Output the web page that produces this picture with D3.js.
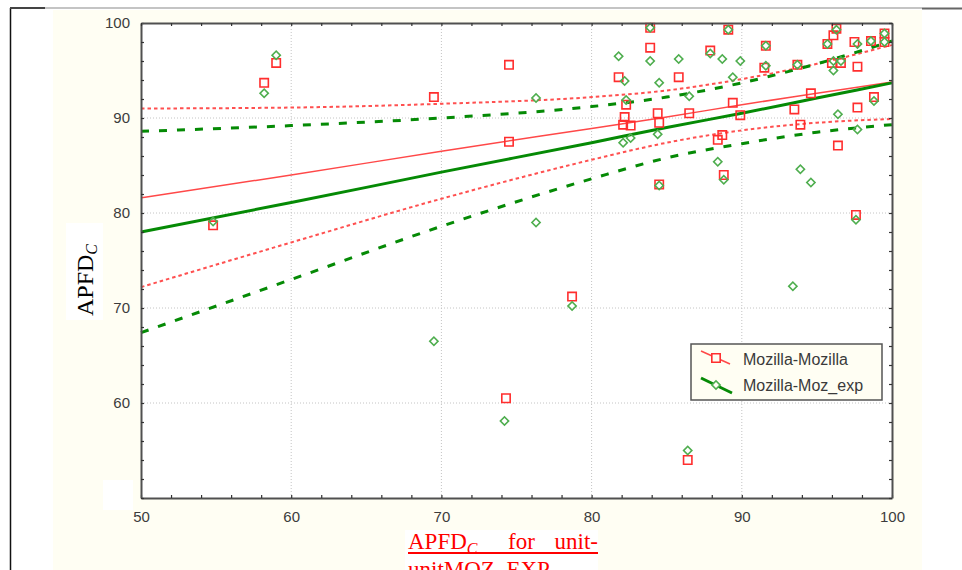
<!DOCTYPE html>
<html>
<head>
<meta charset="utf-8">
<script src="https://cdn.jsdelivr.net/npm/d3@7"></script>
<style>
  body { margin: 0; background: #fff; }
  svg { display: block; }
  .tick text { font-family: "Liberation Sans", Arial, sans-serif; font-size: 15px; fill: #3c3c3c; }
</style>
</head>
<body>
<svg width="962" height="570"></svg>
<script>
// Mozilla-Mozilla (red squares)
const mozillaPoints = [
  [54.8, 78.7], [58.2, 93.7], [59.0, 95.8], [69.5, 92.2], [74.5, 95.6], [74.5, 87.5],
  [74.3, 60.5], [78.7, 71.2], [81.8, 94.3], [82.3, 91.4], [82.2, 90.1], [82.1, 89.3],
  [82.6, 89.2], [83.9, 99.5], [83.9, 97.4], [84.4, 90.5], [84.5, 89.5], [84.5, 83.0],
  [85.8, 94.3], [86.5, 90.5], [86.4, 54.0], [87.9, 97.1], [88.4, 87.7], [88.7, 88.2],
  [88.8, 84.0], [89.1, 99.3], [89.4, 91.6], [89.9, 90.3], [91.5, 95.3], [91.6, 97.6],
  [93.5, 90.9], [93.7, 95.6], [93.9, 89.3], [94.6, 92.6], [95.7, 97.8], [96.0, 95.8],
  [96.1, 98.7], [96.3, 99.4], [96.4, 87.1], [96.6, 95.8], [97.5, 98.0], [97.6, 79.8],
  [97.7, 95.4], [97.7, 91.1], [98.6, 98.1], [98.8, 92.2], [99.5, 98.9], [99.5, 98.0]
];
// Mozilla-Moz_exp (green diamonds)
const mozExpPoints = [
  [54.8, 79.1], [58.2, 92.6], [59.0, 96.6], [69.5, 66.5], [74.2, 58.1], [76.3, 92.1],
  [76.3, 79.0], [78.7, 70.2], [81.8, 96.5], [82.2, 93.9], [82.3, 91.9], [82.1, 87.4],
  [82.6, 87.9], [83.9, 99.5], [83.9, 96.0], [84.5, 93.7], [84.4, 88.3], [84.5, 82.9],
  [85.8, 96.2], [86.5, 92.3], [86.4, 55.0], [87.9, 96.8], [88.7, 96.2], [88.4, 85.4],
  [88.8, 83.5], [89.1, 99.3], [89.4, 94.3], [89.9, 96.0], [91.6, 95.5], [91.6, 97.6],
  [93.4, 72.3], [93.7, 95.6], [93.9, 84.6], [94.6, 83.2], [95.7, 97.8], [96.1, 95.0],
  [96.1, 96.0], [96.3, 99.3], [96.4, 90.4], [96.6, 96.0], [97.6, 79.3], [97.7, 97.8],
  [97.7, 88.8], [98.6, 98.1], [98.8, 91.8], [99.5, 98.9], [99.5, 98.0]
];

// fitted lines and 95% bands
const bandX = [50, 60, 70, 80, 85, 90, 95, 100];
const redFit = [81.6, 84.0, 86.5, 88.9, 90.1, 91.4, 92.6, 93.8];
const redUpper = [91.0, 91.1, 91.5, 92.2, 92.9, 94.1, 95.7, 97.7];
const redLower = [72.2, 76.9, 81.5, 85.6, 87.4, 88.7, 89.5, 89.9];
const greenFit = [78.0, 81.1, 84.3, 87.4, 89.0, 90.5, 92.1, 93.7];
const greenUpper = [88.6, 89.2, 90.0, 91.2, 92.2, 93.7, 95.7, 98.1];
const greenLower = [67.4, 73.0, 78.6, 83.6, 85.8, 87.3, 88.5, 89.3];

const gridValues = [60, 70, 80, 90];
const legendLabels = ['Mozilla-Mozilla', 'Mozilla-Moz_exp'];

const RED = '#ff2e2e';
const GREEN_PT = '#4fae4f';
const GREEN = '#058a05';

const svg = d3.select('svg');

// page frame
svg.append('rect').attr('x', 53).attr('y', 10).attr('width', 869).attr('height', 560).attr('fill', '#fffef3');
svg.append('line').attr('x1', 10.5).attr('x2', 10.5).attr('y1', 8).attr('y2', 570).attr('stroke', '#111').attr('stroke-width', 1.5);
svg.append('line').attr('x1', 10).attr('x2', 45).attr('y1', 8).attr('y2', 8).attr('stroke', '#444').attr('stroke-width', 2);
svg.append('line').attr('x1', 45).attr('x2', 922).attr('y1', 8).attr('y2', 8).attr('stroke', '#8a8a8a').attr('stroke-width', 1.2);
svg.append('line').attr('x1', 922).attr('x2', 962).attr('y1', 8.5).attr('y2', 8.5).attr('stroke', '#666').attr('stroke-width', 2);

const x = d3.scaleLinear().domain([50, 100]).range([141, 892]);
const y = d3.scaleLinear().domain([50, 100]).range([498, 23]);

svg.append('rect')
  .attr('x', x(50)).attr('y', y(100))
  .attr('width', x(100) - x(50)).attr('height', y(50) - y(100))
  .attr('fill', '#fff');

// dotted grid
svg.append('g').selectAll('line.gx')
  .data(gridValues).enter().append('line')
  .attr('x1', d => x(d)).attr('x2', d => x(d))
  .attr('y1', y(100)).attr('y2', y(50))
  .attr('stroke', '#c4c4c4').attr('stroke-dasharray', '1,2');
svg.append('g').selectAll('line.gy')
  .data(gridValues).enter().append('line')
  .attr('y1', d => y(d)).attr('y2', d => y(d))
  .attr('x1', x(50)).attr('x2', x(100))
  .attr('stroke', '#c4c4c4').attr('stroke-dasharray', '1,2');

// lines
const line = d3.line().x(d => x(d[0])).y(d => y(d[1])).curve(d3.curveMonotoneX);
const zipX = vals => bandX.map((v, i) => [v, vals[i]]);

[redUpper, redLower].forEach(vals => {
  svg.append('path').attr('d', line(zipX(vals)))
    .attr('fill', 'none').attr('stroke', '#ff5050').attr('stroke-width', 2)
    .attr('stroke-dasharray', '3.5,3');
});
svg.append('path').attr('d', line(zipX(redFit)))
  .attr('fill', 'none').attr('stroke', '#ff4848').attr('stroke-width', 1.5);

[greenUpper, greenLower].forEach(vals => {
  svg.append('path').attr('d', line(zipX(vals)))
    .attr('fill', 'none').attr('stroke', GREEN).attr('stroke-width', 3)
    .attr('stroke-dasharray', '8,10');
});
svg.append('path').attr('d', line(zipX(greenFit)))
  .attr('fill', 'none').attr('stroke', GREEN).attr('stroke-width', 3);

// markers
const square = d3.symbol().type(d3.symbolSquare).size(70);
const diamond = d3.symbol().type(d3.symbolSquare).size(34);

svg.append('g').selectAll('path')
  .data(mozillaPoints).enter().append('path')
  .attr('d', square)
  .attr('transform', d => `translate(${x(d[0])},${y(d[1])})`)
  .attr('fill', 'none').attr('stroke', RED).attr('stroke-width', 1.6);

svg.append('g').selectAll('path')
  .data(mozExpPoints).enter().append('path')
  .attr('d', diamond)
  .attr('transform', d => `translate(${x(d[0])},${y(d[1])}) rotate(45)`)
  .attr('fill', 'none').attr('stroke', GREEN_PT).attr('stroke-width', 1.6);

// axes, ticks inside on all four sides
const ticks = d3.range(50, 101, 2);
function styleAxis(g) {
  g.select('.domain').attr('stroke', '#505050').attr('stroke-width', 2);
  g.selectAll('.tick line').attr('stroke', '#333').attr('stroke-width', 1.2);
}
svg.append('g').attr('transform', `translate(0,${y(50)})`)
  .call(d3.axisBottom(x).tickValues(ticks).tickSize(-3).tickSizeOuter(0).tickPadding(13)
    .tickFormat(d => d % 10 === 0 ? d : ''))
  .call(styleAxis);
svg.append('g').attr('transform', `translate(${x(50)},0)`)
  .call(d3.axisLeft(y).tickValues(ticks).tickSize(-3).tickSizeOuter(0).tickPadding(11)
    .tickFormat(d => d % 10 === 0 && d > 50 ? d : ''))
  .call(styleAxis);
svg.append('g').attr('transform', `translate(0,${y(100)})`)
  .call(d3.axisTop(x).tickValues(ticks).tickSize(-3).tickSizeOuter(0).tickFormat(''))
  .call(styleAxis);
svg.append('g').attr('transform', `translate(${x(100)},0)`)
  .call(d3.axisRight(y).tickValues(ticks).tickSize(-3).tickSizeOuter(0).tickFormat(''))
  .call(styleAxis);

svg.append('rect').attr('x', 103).attr('y', 480).attr('width', 30).attr('height', 30).attr('fill', '#fff');

// legend
const legend = svg.append('g');
legend.append('rect').attr('x', 691).attr('y', 344).attr('width', 191).attr('height', 56)
  .attr('fill', '#fffef3').attr('stroke', '#555').attr('stroke-width', 1.5);
legend.append('line').attr('x1', 701).attr('y1', 351).attr('x2', 730).attr('y2', 364)
  .attr('stroke', '#ff4848').attr('stroke-width', 1.5);
legend.append('path').attr('d', square).attr('transform', 'translate(716,358)')
  .attr('fill', '#fffef3').attr('stroke', RED).attr('stroke-width', 1.6);
legend.append('line').attr('x1', 701).attr('y1', 378).attr('x2', 732).attr('y2', 393)
  .attr('stroke', GREEN).attr('stroke-width', 3);
legend.append('path').attr('d', diamond).attr('transform', 'translate(716,385) rotate(45)')
  .attr('fill', '#fffef3').attr('stroke', GREEN_PT).attr('stroke-width', 1.6);
legend.selectAll('text.lab')
  .data(legendLabels).enter().append('text')
  .attr('x', 743).attr('y', (d, i) => 365 + i * 26)
  .attr('font-family', '"Liberation Sans", Arial, sans-serif')
  .attr('font-size', 16).attr('fill', '#3a3a3a')
  .text(d => d);

// y axis title
svg.append('rect').attr('x', 66).attr('y', 223).attr('width', 37).attr('height', 97).attr('fill', '#fff');
const yt = svg.append('text')
  .attr('transform', 'translate(93,316) rotate(-90)')
  .attr('font-family', '"Liberation Serif", "Times New Roman", serif')
  .attr('font-size', 24).attr('fill', '#000');
yt.append('tspan').text('APFD');
yt.append('tspan').attr('dy', 4).attr('font-size', 16).attr('font-style', 'italic').text('C');

// x axis title
svg.append('rect').attr('x', 405).attr('y', 530).attr('width', 193).attr('height', 40).attr('fill', '#fff');
const xt = svg.append('g')
  .attr('font-family', '"Liberation Serif", "Times New Roman", serif')
  .attr('font-size', 23).attr('fill', '#ff0000');
const a = xt.append('text').attr('x', 408).attr('y', 549);
a.append('tspan').text('APFD');
a.append('tspan').attr('dy', 5).attr('font-size', 16).attr('font-style', 'italic').text('C');
xt.append('text').attr('x', 508).attr('y', 549).text('for');
xt.append('text').attr('x', 598).attr('y', 549).attr('text-anchor', 'end').text('unit-');
xt.append('line').attr('x1', 408).attr('x2', 598).attr('y1', 553).attr('y2', 553)
  .attr('stroke', '#ff0000').attr('stroke-width', 2);
xt.append('text').attr('x', 408).attr('y', 577).text('unitMOZ_EXP');
</script>
</body>
</html>
